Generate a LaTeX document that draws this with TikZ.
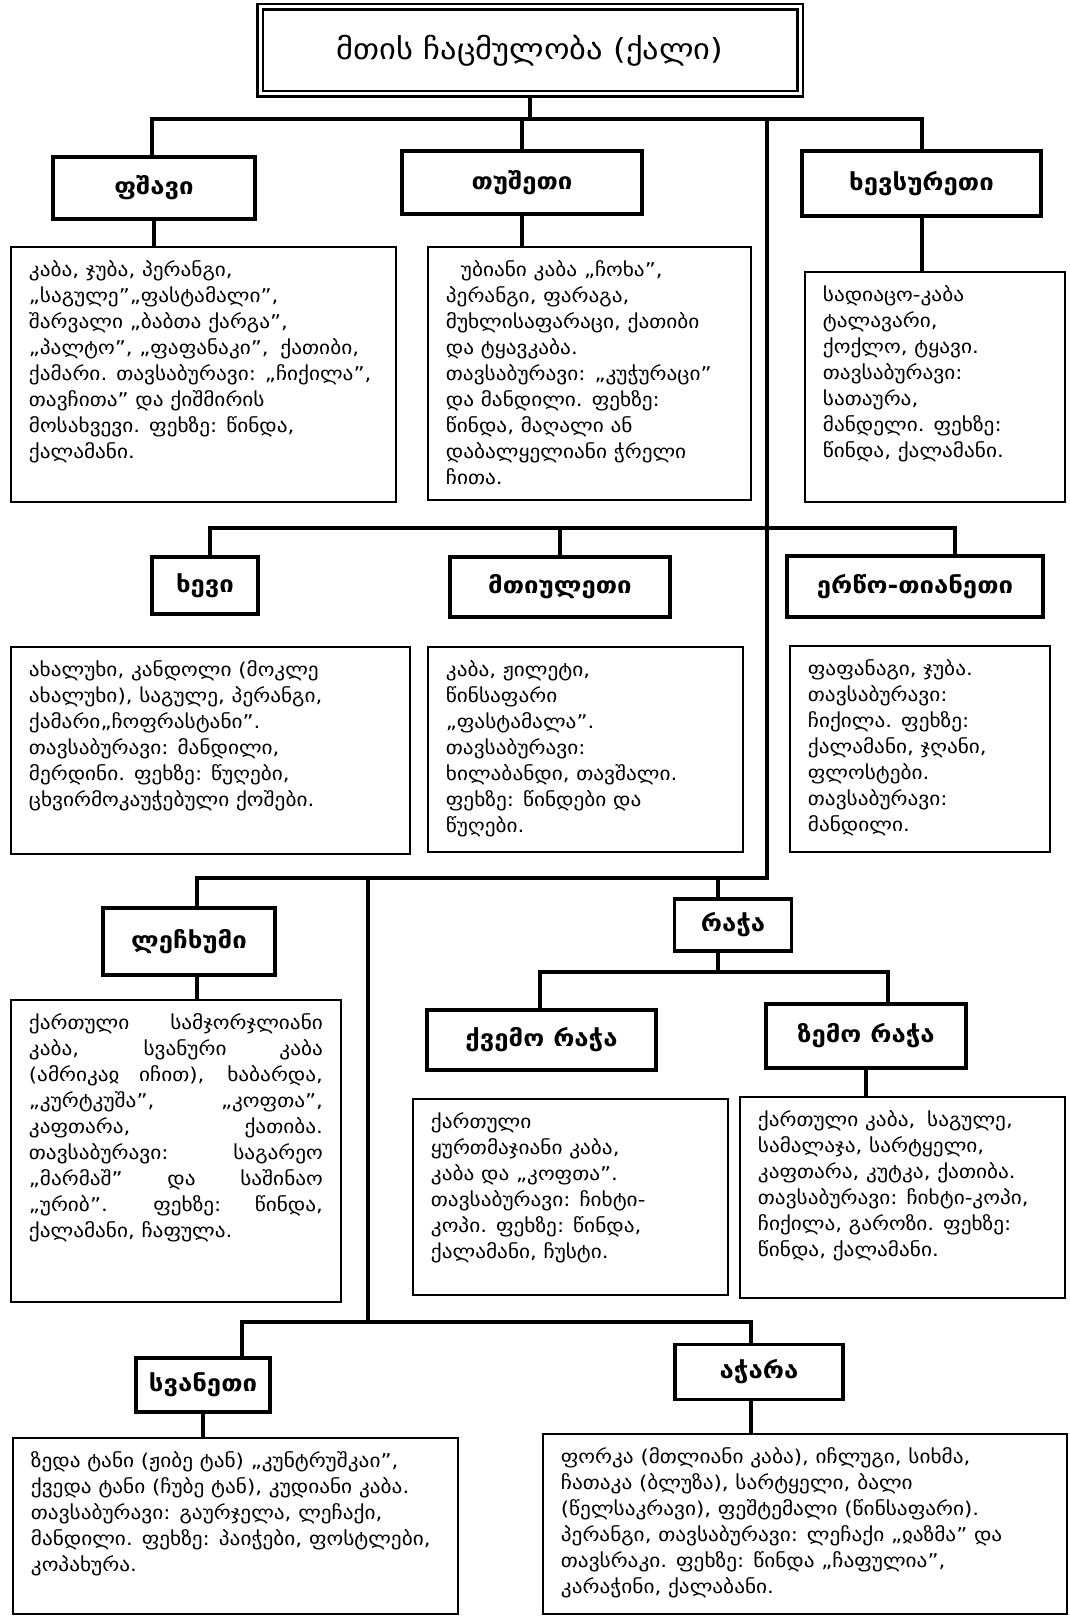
\documentclass[tikz,border=0pt]{standalone}
\usepackage{fontspec}
\setmainfont[FakeStretch=1.12]{DejaVu Sans}
\usetikzlibrary{calc,backgrounds}
\tikzstyle{chart}=[
  x=1pt,y=-1pt,line join=miter
]
\tikzstyle{titlebox}=[
  draw,double,line width=2.2pt,double distance=3pt,inner sep=0pt,fill=white,
  font=\fontsize{29}{34}\selectfont
]
\tikzstyle{region}=[
  draw,line width=3.5pt,inner sep=0pt,fill=white,
  font=\fontsize{23}{28}\selectfont\bfseries
]
\tikzstyle{listbox}=[
  draw,line width=1.8pt,anchor=north west,inner xsep=18pt,inner ysep=14pt,fill=white,
  font=\fontsize{19}{26}\selectfont
]
\tikzstyle{link}=[
  line width=3.5pt
]
\newcommand{\listtext}[3]{\parbox[c][\dimexpr#2pt-28pt\relax][t]{\dimexpr#1pt-36pt\relax}{#3}}

\begin{document}
\begin{tikzpicture}[chart]
    \useasboundingbox (0,0) rectangle (1069,1616);
    % title and first row
    \node (title) at (530,50.5) [titlebox,minimum width=540pt,minimum height=87pt] {მთის ჩაცმულობა (ქალი)};
    \node (pshavi) at (154,188) [region,minimum width=202pt,minimum height=62pt] {ფშავი};
    \node (tusheti) at (522,182.5) [region,minimum width=240pt,minimum height=63pt] {თუშეთი};
    \node (khevsureti) at (921.5,183.5) [region,minimum width=239pt,minimum height=65pt] {ხევსურეთი};
    \node (pshavitxt) at (10,246) [listbox] {\listtext{385}{255}{%
      კაბა, ჯუბა, პერანგი,\\
      „საგულე”„ფასტამალი”,\\
      შარვალი „ბაბთა ქარგა”,\\
      „პალტო”, „ფაფანაკი”,\hspace{5pt} ქათიბი,\\
      ქამარი. თავსაბურავი: „ჩიქილა”,\\
      თავჩითა” და ქიშმირის\\
      მოსახვევი. ფეხზე: წინდა,\\
      ქალამანი.}};
    \node (tushetitxt) at (427,246) [listbox] {\listtext{323}{253}{%
      \hspace*{15pt}უბიანი კაბა „ჩოხა”,\\
      პერანგი, ფარაგა,\\
      მუხლისაფარაცი, ქათიბი\\
      და ტყავკაბა.\\
      თავსაბურავი: „კუჭურაცი”\\
      და მანდილი. ფეხზე:\\
      წინდა, მაღალი ან\\
      დაბალყელიანი ჭრელი\\
      ჩითა.}};
    \node (khevsuretitxt) at (804,271) [listbox] {\listtext{260}{230}{%
      სადიაცო-კაბა\\
      ტალავარი,\\
      ქოქლო, ტყავი.\\
      თავსაბურავი:\\
      სათაურა,\\
      მანდელი. ფეხზე:\\
      წინდა, ქალამანი.}};
    % second row
    \node (khevi) at (205,585.5) [region,minimum width=106pt,minimum height=57pt] {ხევი};
    \node (mtiuleti) at (560,587) [region,minimum width=220pt,minimum height=60pt] {მთიულეთი};
    \node (ertso) at (915,586.5) [region,minimum width=256pt,minimum height=61pt] {ერწო-თიანეთი};
    \node (khevitxt) at (10,646) [listbox] {\listtext{399}{207}{%
      ახალუხი, კანდოლი (მოკლე\\
      ახალუხი), საგულე, პერანგი,\\
      ქამარი„ჩოფრასტანი”.\\
      თავსაბურავი: მანდილი,\\
      მერდინი. ფეხზე: წუღები,\\
      ცხვირმოკაუჭებული ქოშები.}};
    \node (mtiuletitxt) at (427,646) [listbox] {\listtext{315}{205}{%
      კაბა, ჟილეტი,\\
      წინსაფარი\\
      „ფასტამალა”.\\
      თავსაბურავი:\\
      ხილაბანდი, თავშალი.\\
      ფეხზე: წინდები და\\
      წუღები.}};
    \node (ertsotxt) at (789,645) [listbox] {\listtext{260}{206}{%
      ფაფანაგი, ჯუბა.\\
      თავსაბურავი:\\
      ჩიქილა. ფეხზე:\\
      ქალამანი, ჯღანი,\\
      ფლოსტები.\\
      თავსაბურავი:\\
      მანდილი.}};
    % third row
    \node (lechkhumi) at (189,941.5) [region,minimum width=172pt,minimum height=67pt] {ლეჩხუმი};
    \node (racha) at (733,925) [region,minimum width=117pt,minimum height=52pt] {რაჭა};
    \node (kvemo) at (541.5,1040) [region,minimum width=229pt,minimum height=60pt] {ქვემო რაჭა};
    \node (zemo) at (866,1036) [region,minimum width=200pt,minimum height=64pt] {ზემო რაჭა};
    \node (lechkhumitxt) at (10,999) [listbox] {\listtext{330}{302}{%
      ქართული სამჯორჯლიანი\linebreak
      კაბა, სვანური კაბა\linebreak
      (ამრიკაჲ იჩით), ხაბარდა,\linebreak
      „კურტკუშა”, „კოფთა”,\linebreak
      კაფთარა, ქათიბა.\linebreak
      თავსაბურავი: საგარეო\linebreak
      „მარმაშ” და საშინაო\linebreak
      „ურიბ”. ფეხზე: წინდა,\linebreak
      ქალამანი, ჩაფულა.}};
    \node (kvemotxt) at (412,1098) [listbox] {\listtext{315}{196}{%
      ქართული\\
      ყურთმაჯიანი კაბა,\\
      კაბა და „კოფთა”.\\
      თავსაბურავი: ჩიხტი-\\
      კოპი. ფეხზე: წინდა,\\
      ქალამანი, ჩუსტი.}};
    \node (zemotxt) at (739,1096) [listbox] {\listtext{325}{201}{%
      ქართული კაბა,\hspace{5pt} საგულე,\\
      სამალაჯა, სარტყელი,\\
      კაფთარა, კუტკა, ქათიბა.\\
      თავსაბურავი: ჩიხტი-კოპი,\\
      ჩიქილა, გაროზი. ფეხზე:\\
      წინდა, ქალამანი.}};
    % fourth row
    \node (svaneti) at (203,1385) [region,minimum width=134pt,minimum height=54pt] {სვანეთი};
    \node (adjara) at (759,1372) [region,minimum width=168pt,minimum height=55pt] {აჭარა};
    \node (svanetitxt) at (12,1437) [listbox] {\listtext{445}{176}{%
      ზედა ტანი (ჟიბე ტან) „კუნტრუშკაი”,\\
      ქვედა ტანი (ჩუბე ტან), კუდიანი კაბა.\\
      თავსაბურავი: გაურჯელა, ლეჩაქი,\\
      მანდილი. ფეხზე: პაიჭები, ფოსტლები,\\
      კოპახურა.}};
    \node (adjaratxt) at (542,1433) [listbox] {\listtext{524}{180}{%
      ფორკა (მთლიანი კაბა), იჩლუგი, სიხმა,\\
      ჩათაკა (ბლუზა), სარტყელი, ბალი\\
      (წელსაკრავი), ფეშტემალი (წინსაფარი).\\
      პერანგი, თავსაბურავი: ლეჩაქი „ჲაზმა” და\\
      თავსრაკი. ფეხზე: წინდა „ჩაფულია”,\\
      კარაჭინი, ქალაბანი.}};
    % bars and branch points
    \coordinate (topL) at (152,119);
    \coordinate (topR) at (922,119);
    \coordinate (spine) at (767,119);
    \coordinate (spineEnd) at (767,878);
    \coordinate (midL) at (210,528);
    \coordinate (midR) at (955,528);
    \coordinate (lowL) at (197,878);
    \coordinate (stem) at (368,878);
    \coordinate (rachaX) at (718,878);
    \coordinate (rachaL) at (540,972);
    \coordinate (rachaR) at (888,972);
    \coordinate (baseL) at (242,1322);
    \coordinate (baseR) at (751,1322);
    \begin{scope}[on background layer]
      \draw [link] (title.south) -- (title.south |- topL);
      \draw [link] (topL |- pshavi.north) -- (topL) -- (topR) -- (topR |- khevsureti.north);
      \draw [link] (tusheti.north |- topL) -- (tusheti.north);
      \draw [link] (pshavi.south) -- (pshavi.south |- pshavitxt.north);
      \draw [link] (tusheti.south) -- (tusheti.south |- tushetitxt.north);
      \draw [link] (khevsureti.south -| topR) -- (topR |- khevsuretitxt.north);
      \draw [link] (midL |- khevi.north) -- (midL) -- (midR) -- (midR |- ertso.north);
      \draw [link] (mtiuleti.north |- midL) -- (mtiuleti.north);
      \draw [link] (spine) -- (spineEnd) -- (lowL) -- (lowL |- lechkhumi.north);
      \draw [link] (lechkhumi.south -| lowL) -- (lowL |- lechkhumitxt.north);
      \draw [link] (rachaX) -- (rachaX |- racha.north);
      \draw [link] (racha.south -| rachaX) -- (rachaX |- rachaL);
      \draw [link] (rachaL |- kvemo.north) -- (rachaL) -- (rachaR) -- (rachaR |- zemo.north);
      \draw [link] (zemo.south) -- (zemo.south |- zemotxt.north);
      \draw [link] (stem) -- (stem |- baseL);
      \draw [link] (baseL |- svaneti.north) -- (baseL) -- (baseR) -- (baseR |- adjara.north);
      \draw [link] (svaneti.south) -- (svaneti.south |- svanetitxt.north);
      \draw [link] (adjara.south -| baseR) -- (baseR |- adjaratxt.north);
    \end{scope}
\end{tikzpicture}
\end{document}
